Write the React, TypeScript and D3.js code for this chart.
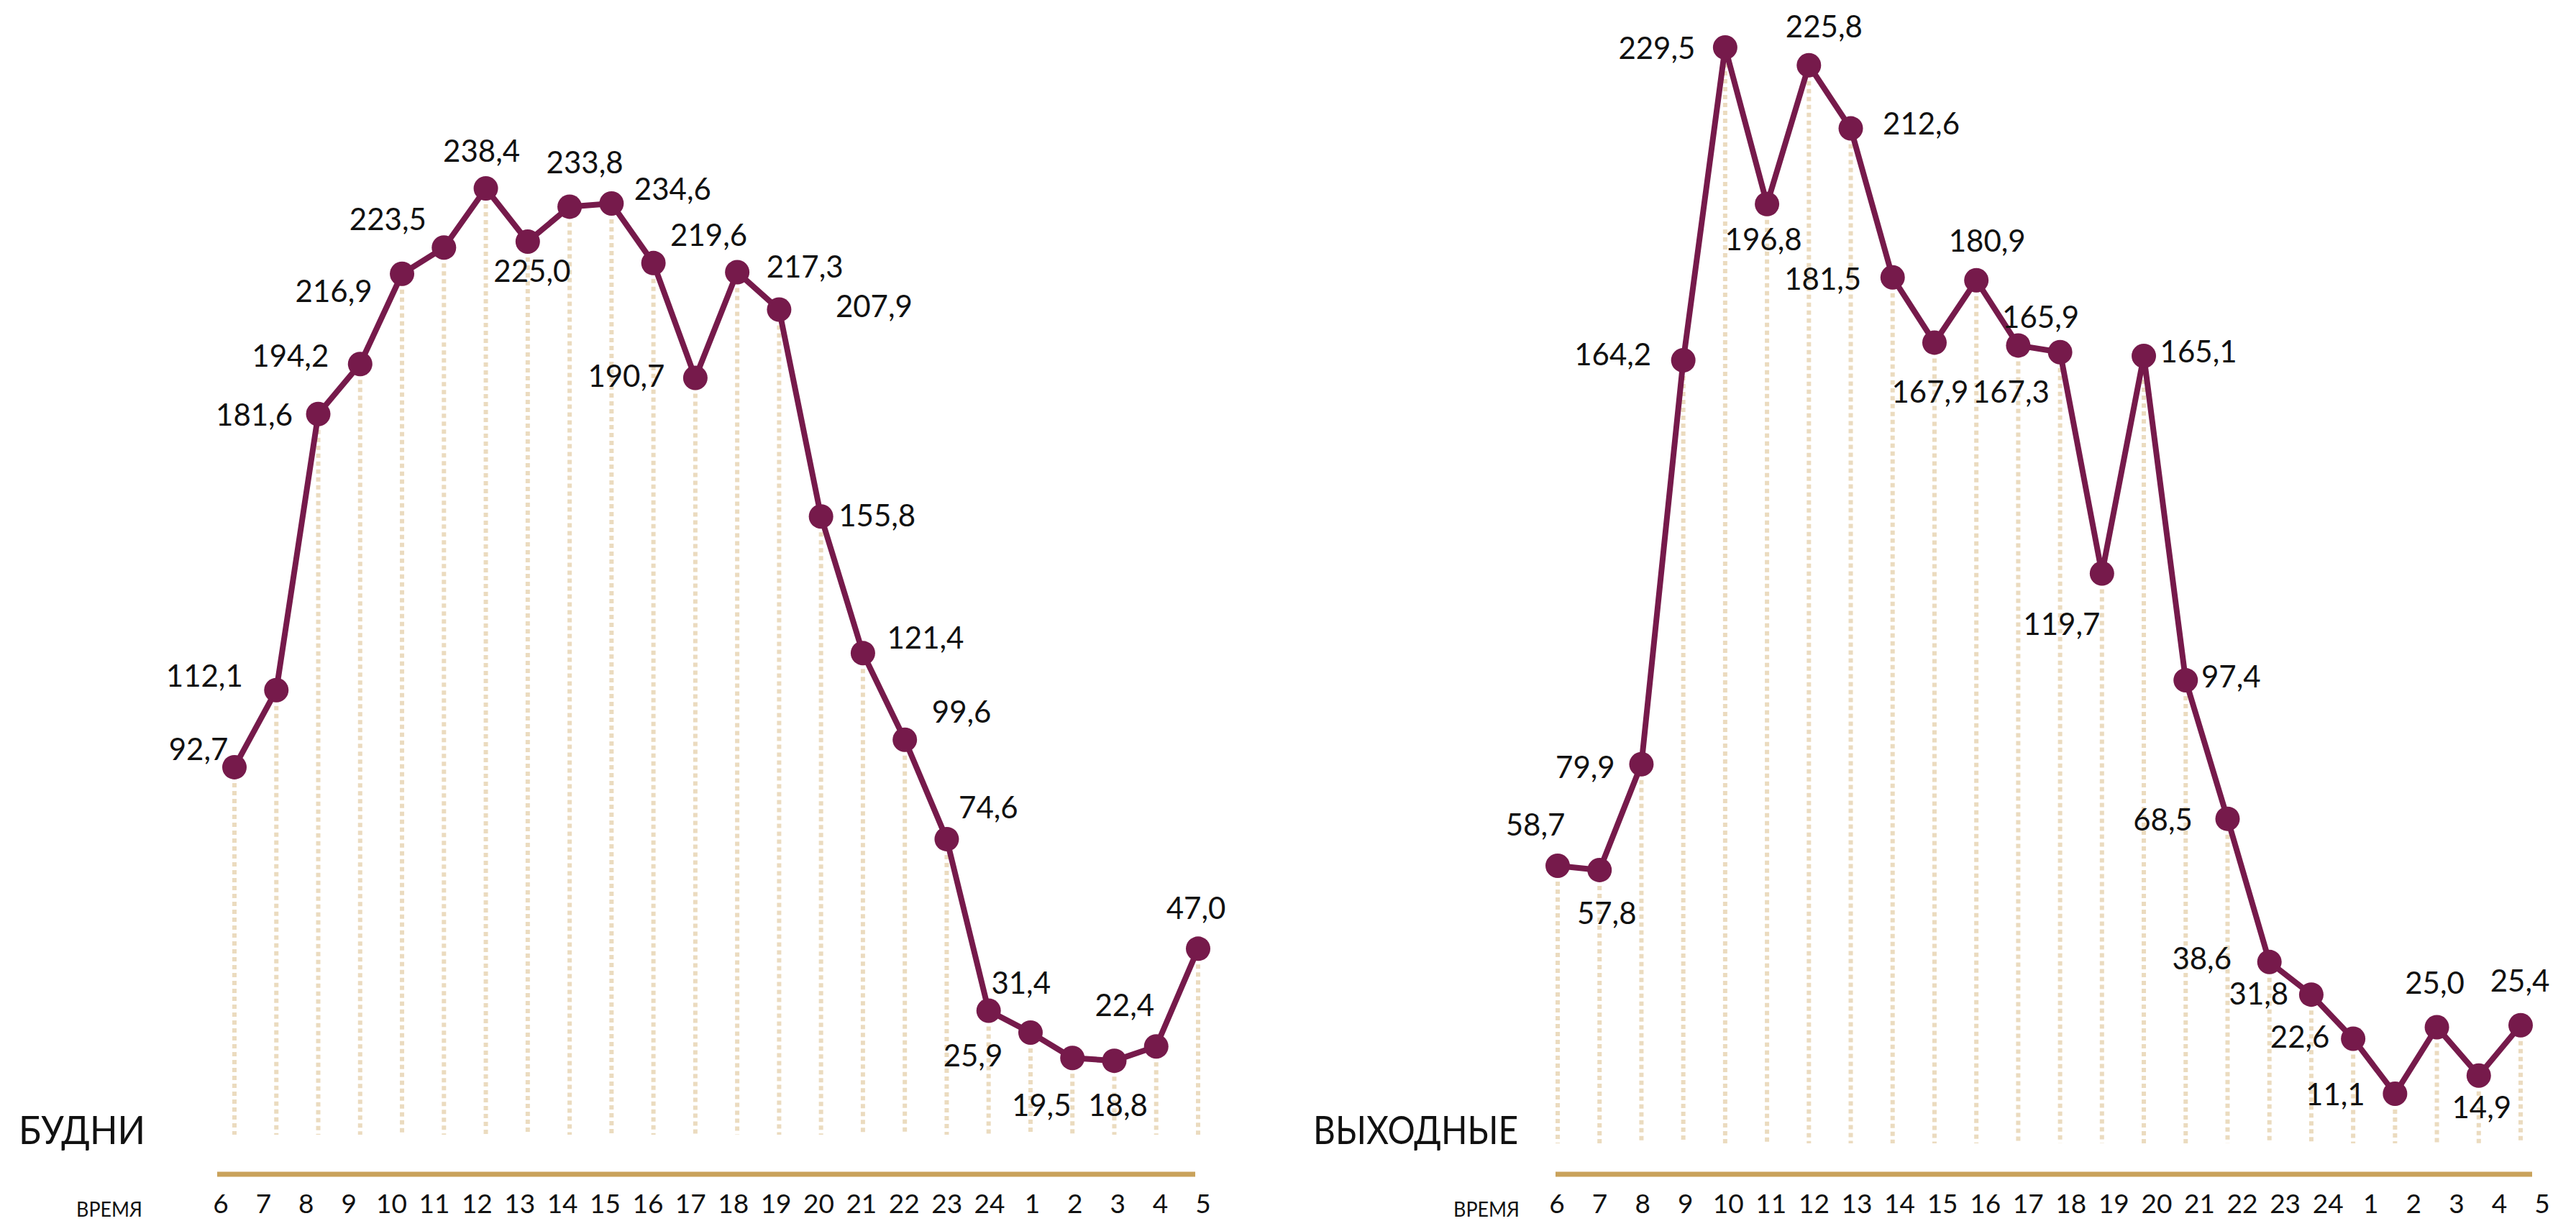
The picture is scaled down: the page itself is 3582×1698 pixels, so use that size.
import React from "react";
import * as d3 from "d3";

// ---------- data ----------
const hours = ["6", "7", "8", "9", "10", "11", "12", "13", "14", "15", "16", "17", "18", "19", "20", "21", "22", "23", "24", "1", "2", "3", "4", "5"];

const weekdayValues = [92.7, 112.1, 181.6, 194.2, 216.9, 223.5, 238.4, 225.0, 233.8, 234.6, 219.6, 190.7, 217.3, 207.9, 155.8, 121.4, 99.6, 74.6, 31.4, 25.9, 19.5, 18.8, 22.4, 47.0];

const weekendValues = [58.7, 57.8, 79.9, 164.2, 229.5, 196.8, 225.8, 212.6, 181.5, 167.9, 180.9, 167.3, 165.9, 119.7, 165.1, 97.4, 68.5, 38.6, 31.8, 22.6, 11.1, 25.0, 14.9, 25.4];

const weekdayTitle = "БУДНИ";
const weekendTitle = "ВЫХОДНЫЕ";
const axisTitle = "ВРЕМЯ";

// ---------- layout (label placement relative to each point) ----------
const weekdayLabelOffsets: [number, number][] = [
  [-50, -25], [-100, -20], [-89, 1], [-97, -11], [-95, 24], [-78, -39], [-6, -52], [6, 41],
  [21, -62], [85, -20], [77, -39], [-96, -3], [94, -8], [132, -5], [78, -1], [87, -21],
  [79, -39], [58, -44], [45, -39], [-80, 32], [-43, 66], [5, 62], [-44, -57], [-3, -56],
];

const weekendLabelOffsets: [number, number][] = [
  [-31, -57], [10, 60], [-78, 4], [-98, -8], [-95, 1], [-5, 49], [21, -54], [98, -7],
  [-97, 2], [-6, 68], [15, -55], [-10, 64], [-27, -49], [-56, 70], [76, -6], [63, -5],
  [-90, 1], [-94, -5], [-73, -1], [-74, -3], [-83, 1], [-3, -62], [4, 44], [-1, -62],
];

const W = 3582;
const H = 1698;
const LINE = "#761A4B";
const GUIDE = "#EBDBBF";
const AXIS = "#C9A25B";
const FONT = "Lato, 'Open Sans', sans-serif";

type Panel = {
  title: string;
  titleWidth: number;
  values: number[];
  offsets: [number, number][];
  guideRange: [number, number];
  tickRange: [number, number];
  axisRange: [number, number];
  yDomainTop: number;
  yRange: [number, number];
  guideBottom: number;
  titleX: number;
  axisTitleX: number;
};

const panels: Panel[] = [
  {
    title: weekdayTitle,
    titleWidth: 176,
    values: weekdayValues,
    offsets: weekdayLabelOffsets,
    guideRange: [326, 1666],
    tickRange: [307, 1673],
    axisRange: [302, 1662],
    yDomainTop: 238.4,
    yRange: [1579, 262],
    guideBottom: 1578,
    titleX: 26,
    axisTitleX: 152,
  },
  {
    title: weekendTitle,
    titleWidth: 285,
    values: weekendValues,
    offsets: weekendLabelOffsets,
    guideRange: [2166, 3505],
    tickRange: [2165, 3535],
    axisRange: [2163, 3521],
    yDomainTop: 229.5,
    yRange: [1595, 66],
    guideBottom: 1590,
    titleX: 1826,
    axisTitleX: 2067,
  },
];

const fmt = (v: number) => v.toFixed(1).replace(".", ",");

function PanelChart({ p }: { p: Panel }) {
  const x = d3.scalePoint<string>().domain(hours).range(p.guideRange);
  const xt = d3.scalePoint<string>().domain(hours).range(p.tickRange);
  const y = d3.scaleLinear().domain([0, p.yDomainTop]).range(p.yRange);
  const pts = p.values.map((v, i) => ({ h: hours[i], v, x: x(hours[i]) as number, y: y(v) }));
  const line = d3
    .line<{ x: number; y: number }>()
    .x((d) => d.x)
    .y((d) => d.y);
  const labelSize = 42;
  return (
    <g>
      {pts.map((d, i) => (
        <line
          key={"g" + i}
          x1={d.x}
          x2={d.x}
          y1={d.y}
          y2={p.guideBottom}
          stroke={GUIDE}
          strokeWidth={6}
          strokeDasharray="6 5"
        />
      ))}
      <path d={line(pts) || ""} fill="none" stroke={LINE} strokeWidth={8} strokeLinejoin="round" />
      {pts.map((d, i) => (
        <circle key={"c" + i} cx={d.x} cy={d.y} r={17} fill={LINE} />
      ))}
      {pts.map((d, i) => (
        <text
          key={"l" + i}
          x={d.x + p.offsets[i][0]}
          y={d.y + p.offsets[i][1] + labelSize * 0.36}
          fontSize={labelSize}
          fontFamily={FONT}
          textAnchor="middle"
          fill="#111"
        >
          {fmt(d.v)}
        </text>
      ))}
      <line
        x1={p.axisRange[0]}
        x2={p.axisRange[1]}
        y1={1633}
        y2={1633}
        stroke={AXIS}
        strokeWidth={7}
      />
      {hours.map((h) => (
        <text
          key={"t" + h}
          x={xt(h) as number}
          y={1687}
          fontSize={37}
          fontFamily={FONT}
          textAnchor="middle"
          fill="#111"
        >
          {h}
        </text>
      ))}
      <text
        x={p.titleX}
        y={1591}
        fontSize={55}
        fontFamily={FONT}
        fill="#111"
        textLength={p.titleWidth}
        lengthAdjust="spacingAndGlyphs"
      >
        {p.title}
      </text>
      <text
        x={p.axisTitleX - 46}
        y={1692}
        fontSize={28}
        fontFamily={FONT}
        fill="#111"
        textLength={92}
        lengthAdjust="spacingAndGlyphs"
      >
        {axisTitle}
      </text>
    </g>
  );
}

export default function App() {
  return (
    <div style={{ position: "absolute", left: 0, top: 0, width: W, height: H, background: "#fff" }}>
      <svg width={W} height={H} viewBox={`0 0 ${W} ${H}`} style={{ display: "block" }}>
        <rect x={0} y={0} width={W} height={H} fill="#fff" />
        {panels.map((p, i) => (
          <PanelChart key={i} p={p} />
        ))}
      </svg>
    </div>
  );
}
